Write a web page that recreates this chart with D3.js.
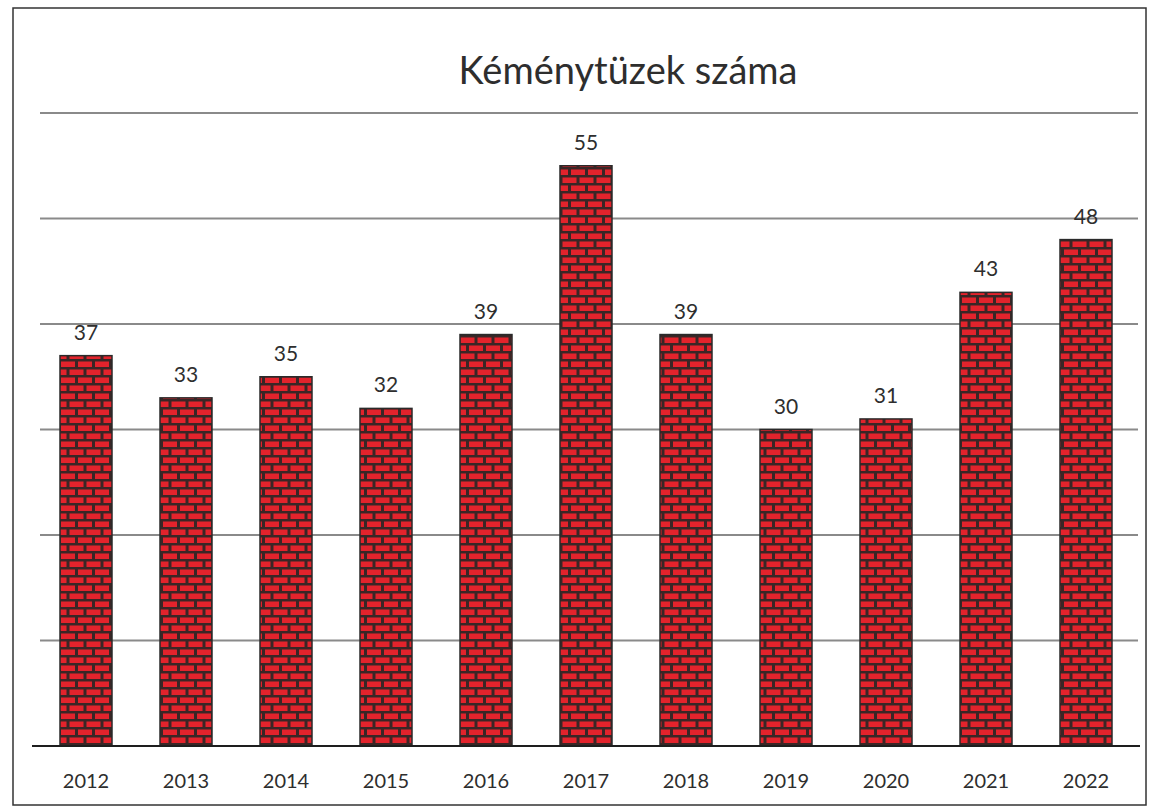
<!DOCTYPE html>
<html>
<head>
<meta charset="utf-8">
<script src="https://cdn.jsdelivr.net/npm/d3@7"></script>
<style>
  body { margin: 0; background: #fff; }
  text { font-family: Lato, "Open Sans", sans-serif; fill: #2e2e2e; }
</style>
</head>
<body>
<div id="chart"></div>
<script>
// data
var years = ['2012', '2013', '2014', '2015', '2016', '2017', '2018', '2019', '2020', '2021', '2022'];
var fires = [37, 33, 35, 32, 39, 55, 39, 30, 31, 43, 48];
var gridTicks = [10, 20, 30, 40, 50, 60];

var width = 1156,
  height = 810;

var svg = d3
  .select('#chart')
  .append('svg')
  .attr('width', width)
  .attr('height', height);

// brick fill pattern
var defs = svg.append('defs');
var brick = defs
  .append('pattern')
  .attr('id', 'brick')
  .attr('patternUnits', 'userSpaceOnUse')
  .attr('width', 17)
  .attr('height', 16);
brick.append('rect').attr('width', 17).attr('height', 16).attr('fill', '#3a2626');
brick.append('rect').attr('x', 1.5).attr('y', 1.5).attr('width', 14).attr('height', 5.5).attr('fill', '#e3232c');
brick.append('rect').attr('x', -7).attr('y', 9.5).attr('width', 14).attr('height', 5.5).attr('fill', '#e3232c');
brick.append('rect').attr('x', 10).attr('y', 9.5).attr('width', 14).attr('height', 5.5).attr('fill', '#e3232c');

// outer frame
svg
  .append('rect')
  .attr('x', 13)
  .attr('y', 8)
  .attr('width', 1133)
  .attr('height', 797)
  .attr('fill', 'none')
  .attr('stroke', '#333')
  .attr('stroke-width', 1.5);

var xScale = d3.scaleBand().domain(years).range([36, 1136]).paddingInner(0.48).paddingOuter(0.24);
var yScale = d3.scaleLinear().domain([0, 60]).range([746, 113]);

// gridlines
svg
  .selectAll('.grid')
  .data(gridTicks)
  .enter()
  .append('line')
  .attr('x1', 40)
  .attr('x2', 1138)
  .attr('y1', function (d) { return yScale(d); })
  .attr('y2', function (d) { return yScale(d); })
  .attr('stroke', '#8a8a8a')
  .attr('stroke-width', 2);

// bars
svg
  .selectAll('.bar')
  .data(fires)
  .enter()
  .append('rect')
  .attr('x', function (d, i) { return xScale(years[i]); })
  .attr('y', function (d) { return yScale(d); })
  .attr('width', xScale.bandwidth())
  .attr('height', function (d) { return yScale(0) - yScale(d); })
  .attr('fill', 'url(#brick)')
  .attr('stroke', '#2a2a2a')
  .attr('stroke-width', 1.5);

// baseline
svg
  .append('line')
  .attr('x1', 32)
  .attr('x2', 1140)
  .attr('y1', yScale(0))
  .attr('y2', yScale(0))
  .attr('stroke', '#1e1e1e')
  .attr('stroke-width', 2);

// value labels
svg
  .selectAll('.val')
  .data(fires)
  .enter()
  .append('text')
  .attr('x', function (d, i) { return xScale(years[i]) + xScale.bandwidth() / 2; })
  .attr('y', function (d) { return yScale(d) - 16; })
  .attr('text-anchor', 'middle')
  .style('font-size', '21px')
  .text(function (d) { return d; });

// year labels
svg
  .selectAll('.year')
  .data(years)
  .enter()
  .append('text')
  .attr('x', function (d) { return xScale(d) + xScale.bandwidth() / 2; })
  .attr('y', 788)
  .attr('text-anchor', 'middle')
  .style('font-size', '20px')
  .text(function (d) { return d; });

// title
svg
  .append('text')
  .attr('x', 628)
  .attr('y', 84)
  .attr('text-anchor', 'middle')
  .style('font-size', '38px')
  .text('Kéménytüzek száma');
</script>
</body>
</html>
